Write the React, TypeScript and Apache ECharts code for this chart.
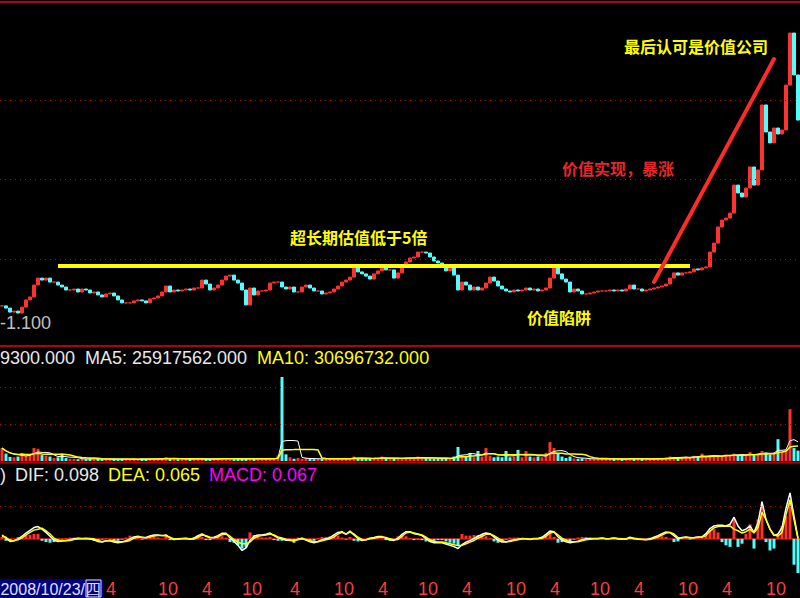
import React, { useEffect, useRef } from "react";
import * as echarts from "echarts";

// ---- data (one entry ≈ half a month) ----
const closes = [
  1.64, 1.53, 1.33, 1.38, 1.28, 1.58, 1.94, 2.09, 2.69, 3.04,
  2.94, 3.04, 2.84, 2.84, 2.69, 2.59, 2.44, 2.44, 2.49, 2.34,
  2.49, 2.44, 2.29, 2.34, 2.19, 2.09, 2.24, 2.29, 2.14, 1.94,
  1.79, 1.79, 1.79, 1.89, 1.94, 1.89, 1.79, 1.99, 2.04, 2.14,
  2.34, 2.64, 2.34, 2.44, 2.39, 2.44, 2.49, 2.44, 2.54, 2.54,
  2.94, 2.74, 2.44, 2.54, 2.69, 2.94, 3.14, 3.19, 2.94, 2.79,
  2.44, 1.69, 2.54, 2.19, 2.39, 2.39, 2.44, 2.79, 2.84, 2.84,
  2.59, 2.49, 2.59, 2.34, 2.34, 2.59, 2.69, 2.54, 2.39, 2.39,
  2.24, 2.29, 2.34, 2.49, 2.64, 2.84, 2.94, 3.09, 3.55, 3.35,
  3.25, 3.14, 2.99, 3.25, 3.40, 3.55, 3.45, 3.45, 3.04, 3.30,
  3.65, 3.85, 4.05, 4.10, 4.35, 4.35, 4.30, 4.10, 3.90, 3.80,
  3.65, 3.40, 3.55, 3.19, 2.44, 2.84, 2.69, 2.44, 2.59, 2.44,
  2.54, 2.79, 3.09, 2.89, 2.64, 2.49, 2.39, 2.34, 2.44, 2.39,
  2.44, 2.54, 2.44, 2.49, 2.39, 2.44, 2.54, 3.04, 3.55, 3.25,
  2.99, 2.84, 2.34, 2.49, 2.39, 2.24, 2.24, 2.29, 2.34, 2.39,
  2.39, 2.39, 2.44, 2.39, 2.44, 2.39, 2.49, 2.69, 2.49, 2.49,
  2.39, 2.44, 2.49, 2.54, 2.59, 2.64, 2.74, 3.04, 3.30, 3.19,
  3.30, 3.30, 3.35, 3.50, 3.45, 3.55, 3.60, 4.35, 4.80, 5.61,
  5.96, 6.06, 6.31, 7.72, 7.32, 7.12, 7.57, 8.63, 7.72, 8.48,
  11.75, 10.39, 9.84, 10.59, 10.29, 10.49, 12.75, 15.37, 13.26, 10.99,
];

// volume, millions of shares
const volumes = [
  35, 20, 11, 10, 12, 22, 14, 18, 35, 33,
  16, 14, 12, 8, 10, 20, 8, 6, 6, 5,
  6, 5, 7, 5, 6, 5, 5, 6, 5, 4,
  5, 6, 4, 5, 5, 6, 5, 6, 5, 7,
  8, 10, 6, 6, 5, 5, 6, 5, 6, 5,
  7, 6, 5, 6, 6, 8, 7, 6, 5, 6,
  6, 7, 6, 5, 6, 5, 6, 8, 7, 15,
  227, 18, 10, 6, 8, 6, 8, 6, 5, 6,
  5, 8, 6, 5, 6, 6, 7, 8, 12, 7,
  6, 7, 6, 6, 8, 12, 7, 6, 6, 7,
  8, 10, 8, 7, 12, 10, 8, 7, 6, 6,
  7, 8, 6, 12, 38, 16, 12, 22, 10, 27,
  12, 35, 14, 10, 12, 10, 27, 10, 12, 30,
  10, 27, 12, 10, 12, 10, 22, 51, 35, 20,
  12, 8, 12, 7, 6, 7, 5, 6, 5, 6,
  5, 6, 7, 5, 6, 5, 6, 8, 5, 6,
  5, 6, 5, 6, 6, 7, 10, 12, 10, 8,
  10, 12, 10, 14, 12, 20, 10, 14, 16, 12,
  14, 18, 16, 20, 15, 18, 14, 24, 16, 20,
  27, 22, 18, 20, 59, 25, 30, 140, 35, 28,
];

const difValues = [
  0.12, 0.02, -0.08, -0.06, 0, 0.08, 0.18, 0.26, 0.35, 0.38,
  0.3, 0.2, 0.08, -0.04, -0.08, -0.07, -0.05, -0.03, 0, 0.02,
  0.01, 0.02, 0, -0.03, -0.08, -0.1, -0.06, -0.06, -0.1, -0.12,
  -0.1, -0.06, 0, 0.06, 0.08, 0.04, 0.04, 0.09, 0.12, 0.12,
  0.1, 0.12, 0.03, -0.02, 0, 0.01, 0.02, -0.01, 0.02, 0.1,
  0.15, 0.08, 0.03, 0.05, 0.1, 0.17, 0.17, 0.03, -0.08, -0.2,
  -0.36, -0.28, -0.05, 0.08, 0.12, 0.12, 0.14, 0.18, 0.1, 0.03,
  0, -0.04, -0.05, -0.06, -0.01, 0.02, -0.04, -0.09, -0.12, -0.08,
  -0.03, 0, 0.04, 0.12, 0.2, 0.22, 0.14, 0.24, 0.12, 0.01,
  -0.05, -0.03, 0.02, 0.04, 0.07, 0.07, 0.02, -0.03, -0.05, 0.02,
  0.14, 0.22, 0.22, 0.16, 0.14, 0.1, 0.01, -0.08, -0.12, -0.12,
  -0.12, -0.16, -0.2, -0.24, -0.3, -0.18, -0.1, -0.05, 0.01, 0.08,
  0.14, 0.18, 0.16, 0.06, -0.04, -0.1, -0.1, -0.06, -0.03, -0.01,
  0.01, 0, -0.02, 0.01, 0.01, 0.05, 0.14, 0.24, 0.22, 0.06,
  -0.03, -0.09, -0.12, -0.1, -0.07, -0.03, 0, 0.01, 0.01, 0.01,
  0.03, 0, 0.01, 0.03, 0, -0.01, 0, 0.05, 0.01, -0.01,
  -0.02, -0.03, 0, 0.05, 0.1, 0.16, 0.21, 0.2, 0.1, 0,
  0.04, 0.06, 0.03, 0.04, 0.06, 0.06, 0.16, 0.32, 0.4, 0.42,
  0.42, 0.4, 0.45, 0.67, 0.4, 0.25, 0.3, 0.4, 0.2, 0.5,
  1.15, 0.6, 0.3, 0.1, 0.15, 0.35, 0.95, 1.42, 0.7, 0.02,
];

const deaValues = [
  0.09, 0.05, -0.05, -0.06, -0.03, 0.03, 0.12, 0.2, 0.27, 0.3,
  0.33, 0.25, 0.15, 0.02, -0.05, -0.06, -0.06, -0.05, -0.02, 0,
  0, 0, 0.01, 0, -0.05, -0.09, -0.07, -0.05, -0.07, -0.09,
  -0.09, -0.08, -0.05, 0.02, 0.06, 0.05, 0.03, 0.06, 0.09, 0.1,
  0.1, 0.09, 0.05, 0, -0.01, 0, 0.01, 0, -0.01, 0.05,
  0.12, 0.1, 0.05, 0.03, 0.06, 0.13, 0.15, 0.08, -0.02, -0.1,
  -0.15, -0.15, -0.1, 0.02, 0.08, 0.1, 0.12, 0.15, 0.12, 0.06,
  0.03, -0.01, -0.03, -0.05, -0.03, 0, -0.02, -0.06, -0.09, -0.09,
  -0.06, -0.03, 0, 0.06, 0.15, 0.2, 0.15, 0.21, 0.15, 0.05,
  -0.02, -0.03, 0, 0.02, 0.05, 0.06, 0.04, 0, -0.03, -0.02,
  0.08, 0.18, 0.21, 0.18, 0.15, 0.12, 0.05, -0.03, -0.08, -0.1,
  -0.1, -0.12, -0.15, -0.18, -0.21, -0.2, -0.15, -0.1, -0.05, 0.02,
  0.08, 0.14, 0.15, 0.1, 0.02, -0.06, -0.09, -0.08, -0.05, -0.03,
  0, 0, -0.01, 0, 0, 0.02, 0.08, 0.18, 0.21, 0.12,
  0.02, -0.05, -0.08, -0.09, -0.09, -0.06, -0.03, -0.01, 0, 0,
  0.02, 0, 0, 0.02, 0.01, 0, -0.01, 0.03, 0.02, 0,
  -0.01, -0.02, -0.02, 0.02, 0.06, 0.12, 0.18, 0.2, 0.15, 0.04,
  0.03, 0.05, 0.04, 0.03, 0.05, 0.05, 0.1, 0.24, 0.34, 0.38,
  0.39, 0.39, 0.4, 0.3, 0.25, 0.18, 0.22, 0.3, 0.18, 0.35,
  0.82, 0.6, 0.3, 0.12, 0.09, 0.2, 0.75, 1.21, 0.6, 0.0,
];

const macdValues = [
  0.06, -0.06, -0.06, 0, 0.06, 0.1, 0.12, 0.12, 0.15, 0.15,
  -0.06, -0.1, -0.12, -0.1, -0.06, -0.02, 0.02, 0.04, 0.04, 0.04,
  0.02, 0.02, -0.02, -0.06, -0.06, -0.02, 0.02, -0.02, -0.06, -0.06,
  -0.02, 0.04, 0.1, 0.08, 0.04, -0.02, 0.02, 0.06, 0.06, 0.04,
  0, 0.06, -0.04, -0.04, 0.02, 0.02, 0.02, -0.02, 0.06, 0.1,
  0.06, -0.04, -0.04, 0.04, 0.08, 0.08, 0.04, -0.1, -0.12, -0.2,
  -0.3, -0.26, 0.2, 0.12, 0.08, 0.04, 0.04, 0.06, -0.04, -0.06,
  -0.06, -0.06, -0.04, -0.12, 0.04, 0.04, -0.04, -0.06, -0.06, 0.02,
  0.06, 0.06, 0.08, 0.12, 0.1, 0.04, -0.02, 0.06, -0.06, -0.08,
  -0.06, 0, 0.04, 0.04, 0.04, 0.02, -0.04, -0.06, -0.04, 0.08,
  0.12, 0.08, 0.02, -0.04, -0.02, -0.04, -0.08, -0.1, -0.08, -0.04,
  -0.04, -0.08, -0.12, -0.15, -0.2, 0.15, 0.1, 0.1, 0.12, 0.12,
  0.12, 0.08, 0.02, -0.08, -0.12, -0.08, -0.02, 0.04, 0.04, 0.04,
  0.02, 0, -0.02, 0.02, 0.02, 0.06, 0.12, 0.24, 0.06, -0.12,
  -0.1, -0.08, -0.08, -0.02, 0.04, 0.06, 0.06, 0.04, 0.02, 0.02,
  0.02, 0, 0.02, 0.02, -0.02, -0.02, 0.02, 0.04, -0.02, -0.02,
  -0.02, -0.02, 0.04, 0.06, 0.08, 0.08, 0.06, 0, -0.1, -0.08,
  0.02, 0.02, -0.02, 0.02, 0.02, 0.02, 0.12, 0.24, 0.3, 0.2,
  -0.1, -0.2, -0.25, 0.6, -0.25, -0.15, 0.15, 0.45, -0.3, 0.6,
  1.0, -0.1, -0.36, -0.3, 0.1, 0.4, 0.7, 1.1, -0.8, -1.06,
];

// month ticks on the bottom axis: period index where the month starts, and its label
const monthTickIndex = [26, 39, 50, 60, 72, 83, 94, 104, 115, 126, 137, 147, 158, 169, 180, 191];
const monthTickText = ["4", "10", "4", "10", "4", "10", "4", "10", "4", "10", "4", "10", "4", "10", "4", "10"];

// annotation lines (period index, price)
const valuationLine = [[14, 3.65], [172, 3.65]];
const rallyLine = [[163, 2.84], [193, 14.06]];
const priceGridLevels = [4, 8, 12];
const volumeGridLevels = [100, 200];
const macdGridLevels = [1];

const lowLabel = "-1.100";
const volTitle = ["9300.000", "MA5: 25917562.000", "MA10: 30696732.000"];
const macdTitle = [")", "DIF: 0.098", "DEA: 0.065", "MACD: 0.067"];
const cursorDate = "2008/10/23/四";

const UP = "#ff3232";
const DOWN = "#54fcfc";
const FRAME = "#b80000";
const DOT = "#c00000";
const NUM_FONT = '18px "Liberation Sans", Arial, sans-serif';
const DATE_FONT = '16px "Liberation Sans", Arial, sans-serif';
const CJK_FONT = 'bold 16px "Noto Sans CJK SC", sans-serif';

function movingAvg(arr: number[], n: number) {
  return arr.map((_, i) => {
    const s = arr.slice(Math.max(0, i - n + 1), i + 1);
    return +(s.reduce((a, b) => a + b, 0) / s.length).toFixed(2);
  });
}

function buildOption() {
  const cats = closes.map((_, i) => String(i));
  const up = closes.map((c, i) => (i === 0 ? true : c >= closes[i - 1]));
  const candle = closes.map((c, i) => {
    const o = i === 0 ? c : closes[i - 1];
    return [o, c, Math.min(o, c), Math.max(o, c)];
  });
  const tickSet = new Set(monthTickIndex);
  const tickMap = new Map(monthTickIndex.map((k, j) => [k, monthTickText[j]]));
  const dotted = { color: DOT, type: [1, 4] as any, width: 1 };
  const gridMark = (levels: number[]) => ({
    silent: true,
    symbol: ["none", "none"],
    label: { show: false },
    lineStyle: dotted,
    data: levels.map((v) => ({ yAxis: v })),
  });

  const text = (x: number, y: number, t: string, fill: string, font: string, align = "left") => ({
    type: "text",
    x,
    y,
    z: 100,
    style: { text: t, fill, font, align, verticalAlign: "middle" },
  });

  return {
    animation: false,
    backgroundColor: "#000",
    grid: [
      { left: 0, right: 0, top: 4, height: 334.5 },
      { left: 0, right: 0, top: 367, height: 94 },
      { left: 0, right: 0, top: 485, height: 93 },
    ],
    xAxis: [
      { type: "category", gridIndex: 0, data: cats, show: false },
      { type: "category", gridIndex: 1, data: cats, show: false },
      {
        type: "category",
        gridIndex: 2,
        position: "bottom",
        data: cats,
        axisLine: { lineStyle: { color: FRAME, width: 2 } },
        axisTick: {
          interval: (i: number) => tickSet.has(i),
          length: 20,
          lineStyle: { color: FRAME, width: 1 },
        },
        axisLabel: {
          interval: (i: number) => tickSet.has(i),
          formatter: (v: string) => tickMap.get(Number(v)) ?? "",
          color: "#ff3c3c",
          fontSize: 18,
          fontFamily: '"Liberation Sans", Arial, sans-serif',
          align: "left",
          margin: 4,
        },
        splitLine: { show: false },
      },
      {
        type: "category",
        gridIndex: 2,
        position: "bottom",
        data: cats,
        axisLine: { show: false },
        axisTick: { interval: 1, length: 5, lineStyle: { color: FRAME } },
        axisLabel: { show: false },
        splitLine: { show: false },
      },
    ],
    yAxis: [
      { type: "value", gridIndex: 0, min: 0, max: 16.83, show: false, splitLine: { show: false } },
      { type: "value", gridIndex: 1, min: 0, max: 254, show: false, splitLine: { show: false } },
      { type: "value", gridIndex: 2, min: -1.15, max: 1.667, show: false, splitLine: { show: false } },
    ],
    series: [
      {
        type: "candlestick",
        xAxisIndex: 0,
        yAxisIndex: 0,
        data: candle,
        barWidth: "80%",
        itemStyle: { color: UP, color0: DOWN, borderColor: UP, borderColor0: DOWN, borderWidth: 1 },
        markLine: {
          silent: true,
          symbol: ["none", "none"],
          label: { show: false },
          data: [
            ...priceGridLevels.map((v) => ({ yAxis: v, lineStyle: dotted })),
            [
              { coord: valuationLine[0], lineStyle: { color: "#ffff00", width: 4, type: "solid" } },
              { coord: valuationLine[1] },
            ],
            [
              { coord: rallyLine[0], lineStyle: { color: "#ff2a2a", width: 4, type: "solid", cap: "round" } },
              { coord: rallyLine[1] },
            ],
          ],
        },
      },
      {
        type: "bar",
        xAxisIndex: 1,
        yAxisIndex: 1,
        barWidth: 3,
        data: volumes.map((v, i) => ({ value: v, itemStyle: { color: up[i] ? UP : DOWN } })),
        markLine: gridMark(volumeGridLevels),
      },
      {
        type: "line",
        xAxisIndex: 1,
        yAxisIndex: 1,
        data: movingAvg(volumes, 5),
        symbol: "none",
        lineStyle: { color: "#ffffff", width: 1 },
      },
      {
        type: "line",
        xAxisIndex: 1,
        yAxisIndex: 1,
        data: movingAvg(volumes, 10),
        symbol: "none",
        lineStyle: { color: "#ffff00", width: 1.5 },
      },
      {
        type: "bar",
        xAxisIndex: 2,
        yAxisIndex: 2,
        barWidth: 3,
        data: macdValues.map((v) => ({ value: v, itemStyle: { color: v >= 0 ? UP : DOWN } })),
        markLine: gridMark(macdGridLevels),
      },
      {
        type: "line",
        xAxisIndex: 2,
        yAxisIndex: 2,
        data: difValues,
        symbol: "none",
        lineStyle: { color: "#ffffff", width: 1.5 },
      },
      {
        type: "line",
        xAxisIndex: 2,
        yAxisIndex: 2,
        data: deaValues,
        symbol: "none",
        lineStyle: { color: "#ffff00", width: 1.5 },
      },
    ],
    graphic: [
      { type: "rect", z: 90, shape: { x: 0, y: 1, width: 800, height: 2 }, style: { fill: FRAME } },
      { type: "rect", z: 90, shape: { x: 0, y: 345, width: 800, height: 2 }, style: { fill: FRAME } },
      { type: "rect", z: 90, shape: { x: 0, y: 461.5, width: 800, height: 2 }, style: { fill: FRAME } },
      text(290, 237, "超长期估值低于5倍", "#ffff00", CJK_FONT),
      text(527, 317, "价值陷阱", "#ffff00", CJK_FONT),
      text(562, 168, "价值实现，暴涨", "#e82828", CJK_FONT),
      text(624, 46, "最后认可是价值公司", "#ffff00", CJK_FONT),
      text(0, 323, lowLabel, "#c0c0c0", NUM_FONT),
      text(0, 358, volTitle[0], "#e8e8e8", NUM_FONT),
      text(85, 358, volTitle[1], "#e8e8e8", NUM_FONT),
      text(257, 358, volTitle[2], "#ffff00", NUM_FONT),
      text(0, 475, macdTitle[0], "#e8e8e8", NUM_FONT),
      text(15, 475, macdTitle[1], "#e8e8e8", NUM_FONT),
      text(108, 475, macdTitle[2], "#ffff00", NUM_FONT),
      text(209, 475, macdTitle[3], "#ff00ff", NUM_FONT),
      { type: "rect", z: 100, shape: { x: 0, y: 579, width: 103, height: 19 }, style: { fill: "#000080" } },
      {
        type: "text",
        x: 101,
        y: 589,
        z: 101,
        style: { text: cursorDate, fill: "#e0e0ff", font: DATE_FONT, align: "right", verticalAlign: "middle" },
      },
      {
        type: "rect",
        z: 102,
        shape: { x: 86, y: 580, width: 15, height: 17 },
        style: { fill: "none", stroke: "#e0e0ff", lineWidth: 1 },
      },
    ],
  };
}

export default function App() {
  const ref = useRef<HTMLDivElement>(null);
  useEffect(() => {
    document.body.style.margin = "0";
    document.body.style.background = "#000";
    const chart = echarts.init(ref.current!, null, { renderer: "svg" });
    chart.setOption(buildOption() as any);
    return () => chart.dispose();
  }, []);
  return <div ref={ref} style={{ width: 800, height: 598, background: "#000" }} />;
}
